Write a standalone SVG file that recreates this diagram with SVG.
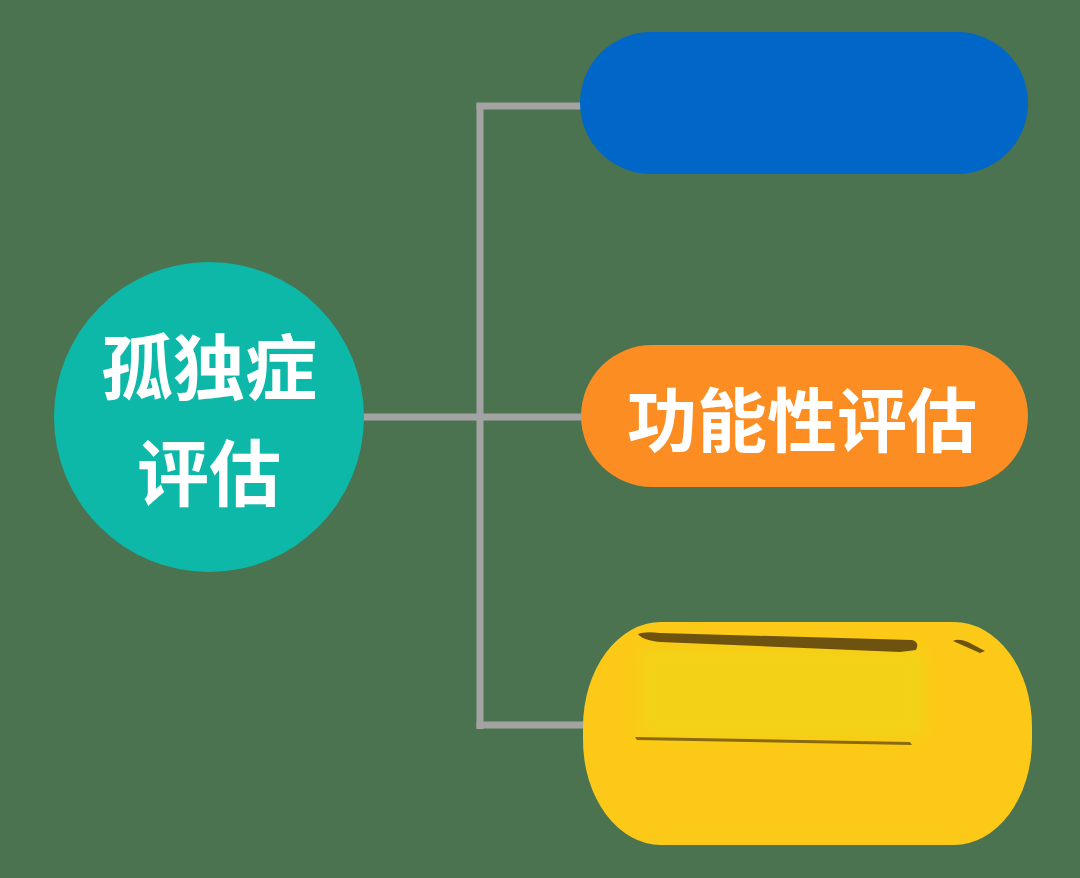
<svg xmlns="http://www.w3.org/2000/svg" width="1080" height="878" viewBox="0 0 1080 878">
<style>
.bg{fill:#4b7350}
.conn{stroke:#a3a3a3;stroke-width:7;fill:none}
.lbl{font-family:"Noto Sans CJK SC","Noto Sans",sans-serif;font-weight:bold;fill:#ffffff;text-anchor:middle;dominant-baseline:central}
</style>
<defs>
<filter id="soft" x="-10%" y="-20%" width="120%" height="140%"><feGaussianBlur stdDeviation="8"/></filter>
</defs>
<rect class="bg" x="0" y="0" width="1080" height="878"/>
<g id="connectors">
<line class="conn" x1="360" y1="417" x2="584" y2="417"/>
<line class="conn" x1="480" y1="103" x2="480" y2="729"/>
<line class="conn" x1="476.5" y1="106" x2="584" y2="106"/>
<line class="conn" x1="476.5" y1="725" x2="586" y2="725"/>
</g>
<g id="root">
<circle cx="209" cy="417" r="155" fill="#0db8a8"/>
<text class="lbl" x="209" y="362" font-size="72">孤独症</text>
<text class="lbl" x="209" y="468" font-size="72">评估</text>
</g>
<g id="node-blue">
<rect x="580" y="32" width="448" height="142" rx="71" fill="#0066c8"/>
</g>
<g id="node-orange">
<rect x="581" y="345" width="447" height="142" rx="71" fill="#fb8d22"/>
<text class="lbl" x="802" y="416" font-size="70">功能性评估</text>
</g>
<g id="node-yellow">
<rect x="583" y="622" width="449" height="223" rx="78" ry="105" fill="#fdc918"/>
<rect x="640" y="648" width="285" height="90" fill="#eed618" opacity="0.7" filter="url(#soft)"/>
<path d="M638,634 Q645,631 660,633 L912,640 Q920,642 916,650 L900,652 L660,642 Q642,640 638,634 Z" fill="#6e5210"/>
<path d="M953,641 Q958,638 968,642 L985,651 L980,653 Z" fill="#6e5210"/>
<path d="M635,737 L910,742 L912,745 L637,740 Z" fill="#8a6a10"/>
</g>
</svg>
